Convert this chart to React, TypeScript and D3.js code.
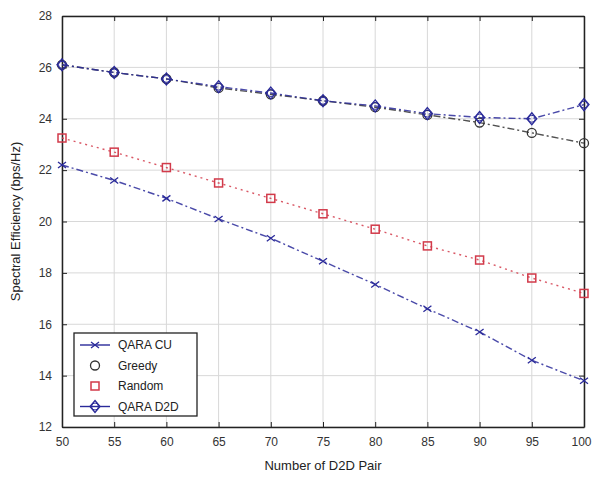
import React, { useEffect, useRef } from "react";
import * as d3 from "d3";

const pairs = [50, 55, 60, 65, 70, 75, 80, 85, 90, 95, 100];
const qaraCU = [22.2, 21.6, 20.9, 20.1, 19.35, 18.45, 17.55, 16.6, 15.7, 14.6, 13.8];
const greedy = [26.1, 25.8, 25.55, 25.2, 24.95, 24.7, 24.45, 24.15, 23.85, 23.45, 23.05];
const random = [23.25, 22.7, 22.1, 21.5, 20.9, 20.3, 19.7, 19.05, 18.5, 17.8, 17.2];
const qaraD2D = [26.1, 25.8, 25.55, 25.25, 25.0, 24.7, 24.5, 24.2, 24.05, 24.0, 24.55];
const yTicks = [12, 14, 16, 18, 20, 22, 24, 26, 28];

const series = [
  { name: "QARA CU", values: qaraCU, color: "#2a2a9a", dash: "7,3,2,3", marker: "x", legendLine: true },
  { name: "Greedy", values: greedy, color: "#333", dash: "7,3,2,3", marker: "circle", legendLine: false },
  { name: "Random", values: random, color: "#d23a4a", dash: "2,4", marker: "square", legendLine: false },
  { name: "QARA D2D", values: qaraD2D, color: "#2a2a9a", dash: "7,3,2,3", marker: "diamond", legendLine: true },
];

const App = () => {
  const svgRef = useRef(null);

  useEffect(() => {
    const svg = d3.select(svgRef.current);
    svg.selectAll("*").remove();
    const margin = { top: 16, right: 8, bottom: 50, left: 62 };
    const width = 592;
    const height = 477;
    const x = d3.scaleLinear().domain([50, 100]).range([margin.left, width - margin.right]);
    const y = d3.scaleLinear().domain([12, 28]).range([height - margin.bottom, margin.top]);
    const font = "Liberation Sans, Arial, sans-serif";

    // grid
    svg.append("g")
      .selectAll("line.gx")
      .data(pairs)
      .enter()
      .append("line")
      .attr("x1", (d) => x(d)).attr("x2", (d) => x(d))
      .attr("y1", y(12)).attr("y2", y(28))
      .attr("stroke", "#d8d8d8").attr("stroke-width", 1);
    svg.append("g")
      .selectAll("line.gy")
      .data(yTicks)
      .enter()
      .append("line")
      .attr("x1", x(50)).attr("x2", x(100))
      .attr("y1", (d) => y(d)).attr("y2", (d) => y(d))
      .attr("stroke", "#d8d8d8").attr("stroke-width", 1);

    // axes (ticks inside, box like matlab)
    const axB = svg.append("g").attr("transform", `translate(0,${y(12)})`)
      .call(d3.axisBottom(x).tickValues(pairs).tickSizeInner(-5).tickSizeOuter(0).tickPadding(10));
    const axT = svg.append("g").attr("transform", `translate(0,${y(28)})`)
      .call(d3.axisTop(x).tickValues(pairs).tickSizeInner(-5).tickSizeOuter(0).tickFormat(() => ""));
    const axL = svg.append("g").attr("transform", `translate(${x(50)},0)`)
      .call(d3.axisLeft(y).tickValues(yTicks).tickSizeInner(-5).tickSizeOuter(0).tickPadding(10));
    const axR = svg.append("g").attr("transform", `translate(${x(100)},0)`)
      .call(d3.axisRight(y).tickValues(yTicks).tickSizeInner(-5).tickSizeOuter(0).tickFormat(() => ""));
    [axB, axT, axL, axR].forEach((g) => {
      g.select(".domain").attr("stroke", "#222").attr("stroke-width", 1.5);
      g.selectAll(".tick line").attr("stroke", "#222");
      g.selectAll("text").attr("font-family", font).attr("font-size", 12).attr("fill", "#333");
    });
    // keep the last x label inside the window
    axB.selectAll(".tick text").filter((d) => d === 100)
      .attr("text-anchor", "end").attr("dx", 7);

    const line = d3.line().x((d, i) => x(pairs[i])).y((d) => y(d));

    const drawMarker = (g, m, cx, cy, color) => {
      if (m === "circle") {
        g.append("circle").attr("cx", cx).attr("cy", cy).attr("r", 4.5)
          .attr("fill", "none").attr("stroke", color).attr("stroke-width", 1.3);
      } else if (m === "square") {
        g.append("rect").attr("x", cx - 4).attr("y", cy - 4).attr("width", 8).attr("height", 8)
          .attr("fill", "none").attr("stroke", color).attr("stroke-width", 1.5);
      } else if (m === "diamond") {
        g.append("path").attr("d", `M${cx},${cy - 6}L${cx + 5},${cy}L${cx},${cy + 6}L${cx - 5},${cy}Z`)
          .attr("fill", "none").attr("stroke", color).attr("stroke-width", 1.3);
        g.append("circle").attr("cx", cx).attr("cy", cy).attr("r", 3.5)
          .attr("fill", "none").attr("stroke", color).attr("stroke-width", 1);
      } else {
        g.append("path").attr("d", `M${cx - 4},${cy - 3}L${cx + 4},${cy + 3}M${cx - 4},${cy + 3}L${cx + 4},${cy - 3}`)
          .attr("stroke", color).attr("stroke-width", 1.3);
      }
    };

    series.forEach((s) => {
      svg.append("path").datum(s.values).attr("d", line)
        .attr("fill", "none").attr("stroke", s.color).attr("stroke-width", 1.4)
        .attr("stroke-dasharray", s.dash).attr("opacity", 0.85);
      const g = svg.append("g");
      s.values.forEach((v, i) => drawMarker(g, s.marker, x(pairs[i]), y(v), s.color));
    });

    // legend
    const lg = svg.append("g").attr("transform", "translate(74,333)");
    lg.append("rect").attr("width", 123).attr("height", 83)
      .attr("fill", "#fff").attr("stroke", "#222").attr("stroke-width", 1.3);
    series.forEach((s, i) => {
      const ry = 12 + i * 20.5;
      if (s.legendLine) {
        lg.append("line").attr("x1", 6).attr("x2", 36).attr("y1", ry).attr("y2", ry)
          .attr("stroke", s.color).attr("stroke-width", 1.4);
      }
      drawMarker(lg, s.marker, 21, ry, s.color);
      lg.append("text").attr("x", 44).attr("y", ry + 4).text(s.name)
        .attr("font-family", font).attr("font-size", 12).attr("fill", "#222");
    });

    svg.append("text").attr("x", (x(50) + x(100)) / 2).attr("y", 470)
      .attr("text-anchor", "middle").attr("font-family", font).attr("font-size", 13)
      .attr("fill", "#222").text("Number of D2D Pair");
    svg.append("text").attr("transform", `translate(20,${(y(12) + y(28)) / 2}) rotate(-90)`)
      .attr("text-anchor", "middle").attr("font-family", font).attr("font-size", 13)
      .attr("fill", "#222").text("Spectral Efficiency (bps/Hz)");
  }, []);

  return <svg ref={svgRef} width={592} height={477} style={{ position: "absolute", left: 0, top: 0 }}></svg>;
};

export default App;
